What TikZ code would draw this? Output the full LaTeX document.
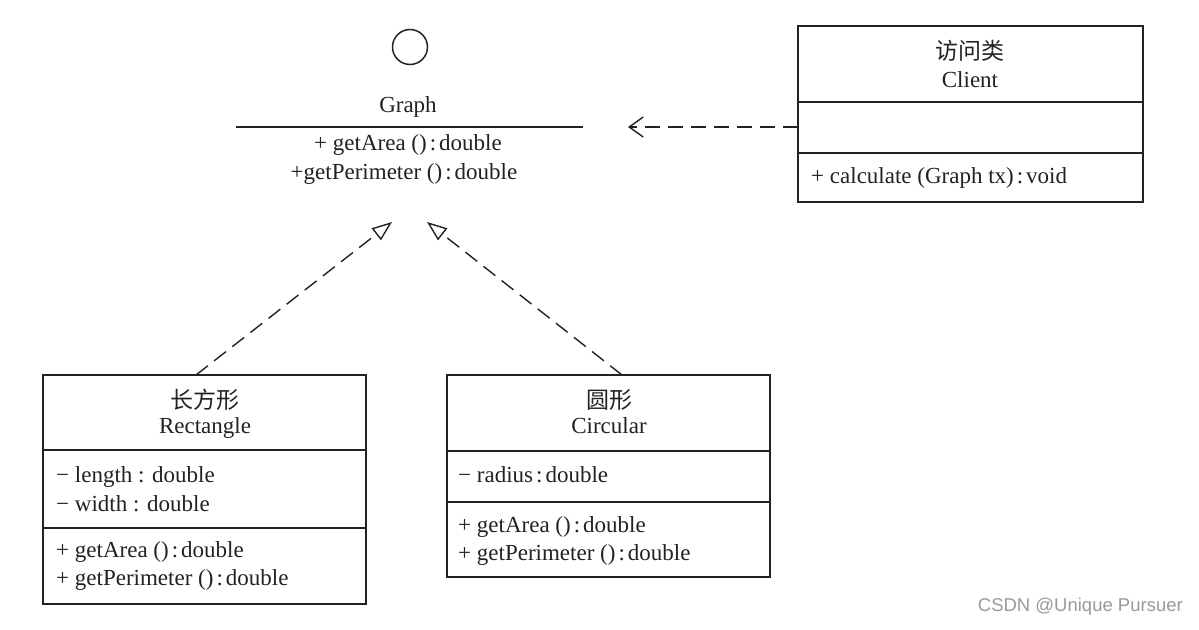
\documentclass[tikz,border=0pt]{standalone}
\usepackage{fontspec}
\setmainfont{Liberation Serif}
\newfontfamily\cjk{Noto Sans CJK SC}
\newfontfamily\wmfont{Liberation Sans}
\usetikzlibrary{arrows.meta}
\definecolor{ink}{HTML}{222222}
\definecolor{wm}{HTML}{9A9A9A}
\newcommand{\cln}{\kern3pt:\kern3pt}
\tikzset{
  box/.style={draw=ink, line width=1.5pt, inner sep=0pt},
  rule/.style={draw=ink, line width=1.5pt},
  txt/.style={inner sep=0pt, anchor=base, text=ink, font=\fontsize{23}{26}\selectfont},
  ltxt/.style={txt, anchor=base west},
  cjktxt/.style={inner sep=0pt, anchor=center, text=ink, font=\fontsize{23}{26}\cjk},
  dashline/.style={draw=ink, line width=1.4pt, dash pattern=on 15pt off 8pt},
  realize/.style={dashline, -{Triangle[open, length=20pt, width=15pt, line width=1.4pt]}},
  depend/.style={dashline, -{Straight Barb[length=14pt, width=20pt, line width=1.4pt]}}
}
\begin{document}
\begin{tikzpicture}[x=1pt,y=-1pt]
\useasboundingbox[fill=white] (0,0) rectangle (1199,629);

% Graph interface
\node[circle, draw=ink, line width=1.5pt, minimum size=35pt, inner sep=0pt] (lollipop) at (410,47) {};
\node[txt] (gname) at (408,112) {Graph};
\coordinate (gl) at (236,127);
\coordinate (gr) at (583,127);
\draw[rule] (gl) -- (gr);
\node[txt] (gm1) at (408,150) {+ getArea ()\cln double};
\node[txt] (gm2) at (404,179) {+getPerimeter ()\cln double};
\coordinate (gtipL) at (392,222);
\coordinate (gtipR) at (427,222);
\coordinate (gtipC) at (628,127);

% Client
\node[box, minimum width=345pt, minimum height=176pt] (client) at (970.5,114) {};
\coordinate (c1l) at (798,102); \coordinate (c1r) at (1143,102);
\coordinate (c2l) at (798,153); \coordinate (c2r) at (1143,153);
\draw[rule] (c1l) -- (c1r);
\draw[rule] (c2l) -- (c2r);
\node[cjktxt] (cn1) at (970,51) {访问类};
\node[txt] (cn2) at (970,87) {Client};
\node[ltxt] (cm1) at (811,183) {+ calculate (Graph tx)\cln void};

% Rectangle
\node[box, minimum width=323pt, minimum height=229pt] (rect) at (204.5,489.5) {};
\coordinate (r1l) at (43,450); \coordinate (r1r) at (366,450);
\coordinate (r2l) at (43,528); \coordinate (r2r) at (366,528);
\draw[rule] (r1l) -- (r1r);
\draw[rule] (r2l) -- (r2r);
\node[cjktxt] (rn1) at (205,400) {长方形};
\node[txt] (rn2) at (205,433) {Rectangle};
\node[ltxt] (ra1) at (56,482) {− length : double};
\node[ltxt] (ra2) at (56,511) {− width : double};
\node[ltxt] (rm1) at (56,557) {+ getArea ()\cln double};
\node[ltxt] (rm2) at (56,585) {+ getPerimeter ()\cln double};
\coordinate (rtop) at (196,375);

% Circular
\node[box, minimum width=323pt, minimum height=202pt] (circ) at (608.5,476) {};
\coordinate (k1l) at (447,451); \coordinate (k1r) at (770,451);
\coordinate (k2l) at (447,502); \coordinate (k2r) at (770,502);
\draw[rule] (k1l) -- (k1r);
\draw[rule] (k2l) -- (k2r);
\node[cjktxt] (kn1) at (609,400) {圆形};
\node[txt] (kn2) at (609,433) {Circular};
\node[ltxt] (ka1) at (458,482) {− radius\cln double};
\node[ltxt] (km1) at (458,532) {+ getArea ()\cln double};
\node[ltxt] (km2) at (458,560) {+ getPerimeter ()\cln double};
\coordinate (ktop) at (622,375);

% connectors
\draw[realize] (rtop) -- (gtipL);
\draw[realize] (ktop) -- (gtipR);
\coordinate (cleft) at (798,127);
\draw[depend] (cleft) -- (gtipC);

% watermark
\node[inner sep=0pt, anchor=mid east, text=wm, font=\fontsize{18.5}{20}\wmfont] (wmark) at (1183,609) {CSDN @Unique Pursuer};
\end{tikzpicture}
\end{document}
